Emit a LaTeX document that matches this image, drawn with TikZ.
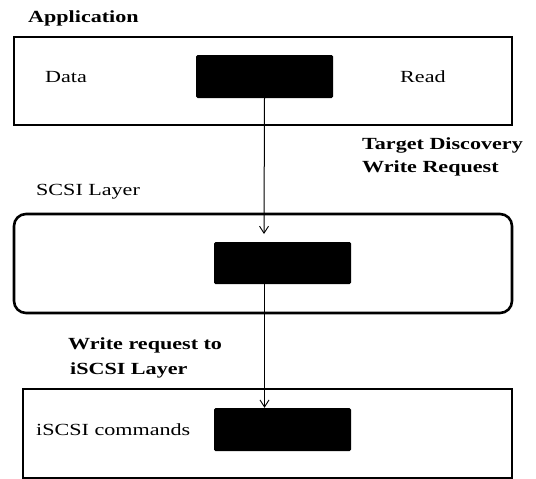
\documentclass[tikz,border=0pt]{standalone}
\usepackage{fontspec}
\setmainfont{Liberation Serif}[FakeStretch=1.3]
\usetikzlibrary{arrows.meta}
\begin{document}
\begin{tikzpicture}[x=1pt,y=-1pt,
  layer/.style={draw=black,line width=2.6pt},
  blk/.style={fill=black,rounded corners=1.5pt},
  lbl/.style={anchor=west,inner sep=0pt,font=\fontsize{17}{20}\selectfont},
  blbl/.style={lbl,font=\fontsize{17}{20}\selectfont\bfseries},
  conn/.style={line width=1pt,-{Straight Barb[length=7pt,width=9pt,line width=0.9pt]}}]
\useasboundingbox (0,0) rectangle (536,479);
% layer boxes
\node[layer,minimum width=498pt,minimum height=88pt,inner sep=0pt] (app) at (263,81) {};
\node[layer,rounded corners=12pt,minimum width=498pt,minimum height=99pt,inner sep=0pt] (scsi) at (263,263.5) {};
\node[layer,minimum width=489pt,minimum height=89pt,inner sep=0pt] (iscsi) at (267.5,433.5) {};
% black blocks
\node[blk,minimum width=137pt,minimum height=43pt,inner sep=0pt] (b1) at (264.5,76.5) {};
\node[blk,minimum width=137pt,minimum height=42pt,inner sep=0pt] (b2) at (282.5,263) {};
\node[blk,minimum width=137pt,minimum height=43pt,inner sep=0pt] (b3) at (282.5,429.5) {};
% labels
\node[blbl] (tapp) at (28,18) {Application};
\node[lbl] (tdata) at (45,77) {Data};
\node[lbl] (tread) at (400,77) {Read};
\node[blbl] (ttd) at (362,145) {Target Discovery};
\node[blbl] (twr) at (362,168) {Write Request};
\node[lbl] (tscsi) at (36,192) {SCSI Layer};
\node[blbl] (twrt) at (68,345) {Write request to};
\node[blbl] (tisl) at (70,370) {iSCSI Layer};
\node[lbl] (tcmd) at (36,430) {iSCSI commands};
% connectors
\coordinate (e1) at (264,234);
\draw[conn] (b1.south) -- (e1);
\draw[conn] (b2.south -| b1.south) -- (b3.north -| b1.south);
\end{tikzpicture}
\end{document}
